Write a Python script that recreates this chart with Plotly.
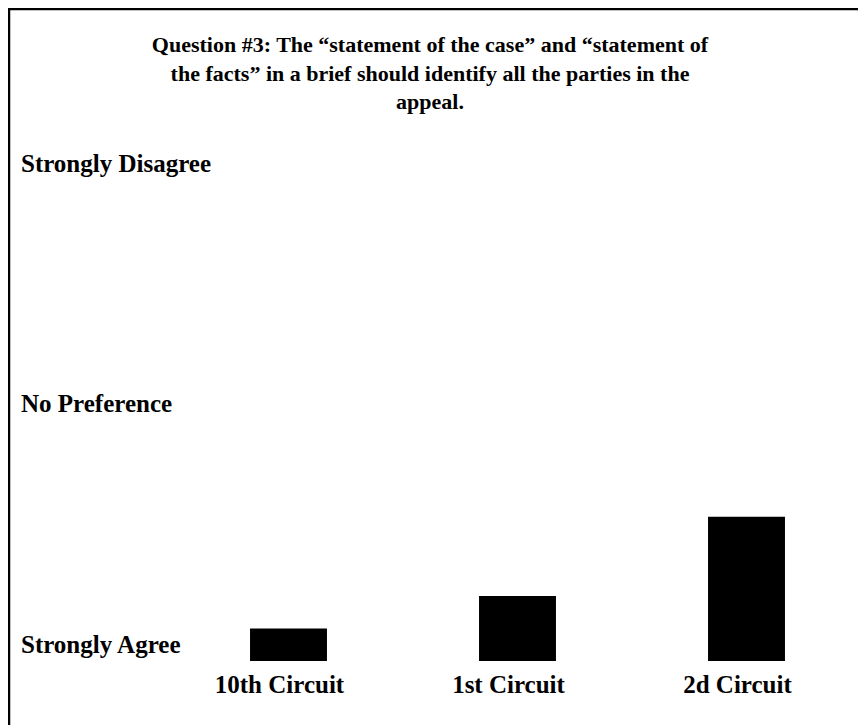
import plotly.graph_objects as go

# --- data --------------------------------------------------------------
circuits = ["10th Circuit", "1st Circuit", "2d Circuit"]
mean_scores = [1.27, 1.54, 2.20]          # 1 = Strongly Agree ... 5 = Strongly Disagree
scale_values = [1, 3, 5]
scale_labels = ["Strongly Agree", "No Preference", "Strongly Disagree"]

TITLE = ("Question #3: The “statement of the case” and “statement of<br>"
         "the facts” in a brief should identify all the parties in the<br>"
         "appeal.")

FONT = "Liberation Serif, Times New Roman, serif"
W, H = 866, 725
L, R, T, B = 166, 13, 172, 72          # plot area margins (px)
PW, PH = W - L - R, H - T - B


def px_to_paper_x(px):
    return (px - L) / PW


def px_to_paper_y(py):
    return (H - B - py) / PH


fig = go.Figure()
fig.add_trace(
    go.Bar(
        x=circuits,
        y=mean_scores,
        marker=dict(color="black", line=dict(width=0)),
        showlegend=False,
    )
)

# scale labels, left aligned like the original
for v, lab in zip(scale_values, scale_labels):
    fig.add_annotation(
        x=px_to_paper_x(11), xref="paper", xanchor="left",
        y=v, yref="y", yanchor="middle", yshift=17,
        text=f"<b>{lab}</b>", showarrow=False,
        font=dict(family=FONT, size=25, color="black"),
    )

# outer frame (open on the right / bottom, as in the source image)
fig.add_shape(
    type="rect", xref="paper", yref="paper",
    x0=px_to_paper_x(1), x1=px_to_paper_x(880),
    y0=px_to_paper_y(740), y1=px_to_paper_y(1),
    line=dict(color="black", width=2.5), layer="below",
)

fig.update_layout(
    width=W, height=H,
    margin=dict(l=L, r=R, t=T, b=B),
    paper_bgcolor="white", plot_bgcolor="white",
    bargap=0.664,
    font=dict(family=FONT, size=25, color="black"),
    title=dict(
        text=f"<b>{TITLE}</b>",
        x=422 / W, xanchor="center",
        y=1 - 44 / H, yanchor="top",
        font=dict(family=FONT, size=22, color="black"),
    ),
)
fig.update_xaxes(
    range=[-0.5, 2.5], showline=False, showgrid=False, zeroline=False,
    ticks="", tickfont=dict(family=FONT, size=25, color="black"),
    ticklabelshift=-9, ticklabelstandoff=6,
    tickprefix="<b>", ticksuffix="</b>",
)
fig.update_yaxes(
    range=[1, 5], showline=False, showgrid=False, zeroline=False,
    showticklabels=False, ticks="",
)

fig.write_html("out.html")
